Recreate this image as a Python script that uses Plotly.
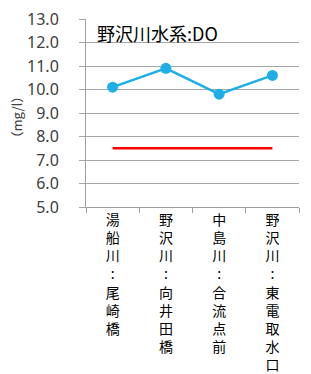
import plotly.graph_objects as go

categories = ["湯船川:尾崎橋", "野沢川:向井田橋", "中島川:合流点前", "野沢川:東電取水口"]
do_values = [10.1, 10.9, 9.8, 10.6]
standard_values = [7.5, 7.5, 7.5, 7.5]
y_ticks = [5, 6, 7, 8, 9, 10, 11, 12, 13]
y_tick_labels = ["5.0", "6.0", "7.0", "8.0", "9.0", "10.0", "11.0", "12.0", "13.0"]

def vertical(s):
    return "<br>".join(list(s))

fig = go.Figure()
fig.add_trace(go.Scatter(
    x=categories, y=standard_values, mode="lines",
    line=dict(color="#FF0000", width=2.5), showlegend=False))
fig.add_trace(go.Scatter(
    x=categories, y=do_values, mode="lines+markers",
    line=dict(color="#1DAFE6", width=2.5),
    marker=dict(color="#1DAFE6", size=11), showlegend=False))

fig.update_layout(
    width=303, height=366,
    margin=dict(l=78, r=12, t=11, b=167),
    paper_bgcolor="white", plot_bgcolor="white",
    font=dict(family="Noto Sans CJK JP, sans-serif", color="#404040"),
    xaxis=dict(
        type="category", automargin=False,
        tickmode="array", tickvals=categories,
        ticktext=[vertical(c) for c in categories],
        tickson="boundaries", ticks="outside", ticklen=5, tickcolor="#A0A0A0",
        showgrid=False, showline=True, linecolor="#A0A0A0", linewidth=1,
        tickfont=dict(size=14, color="#000000", family="Noto Sans CJK JP"),
        tickangle=0, range=[-0.5, 3.5],
    ),
    yaxis=dict(
        range=[5, 13], automargin=False,
        tickmode="array", tickvals=y_ticks, ticktext=y_tick_labels,
        showgrid=True, gridcolor="#A6A6A6", gridwidth=1,
        showline=True, linecolor="#A0A0A0", ticks="outside", ticklen=6, tickcolor="#A6A6A6",
        ticklabelstandoff=17, ticklabeloverflow="allow",
        tickfont=dict(size=16, color="#404040", family="Noto Sans, sans-serif"),
        zeroline=False,
    ),
    annotations=[
        dict(text="野沢川水系:DO", xref="paper", yref="paper", x=0.04, y=0.925,
             xanchor="left", yanchor="middle", showarrow=False,
             font=dict(size=18, color="#000000", family="Noto Sans CJK JP")),
        dict(text="（mg/l）", xref="paper", yref="paper", x=-0.325, y=0.48,
             xanchor="center", yanchor="middle", showarrow=False, textangle=-90,
             font=dict(size=13, color="#404040", family="Noto Sans CJK JP")),
    ],
)

fig.write_html("out.html")
